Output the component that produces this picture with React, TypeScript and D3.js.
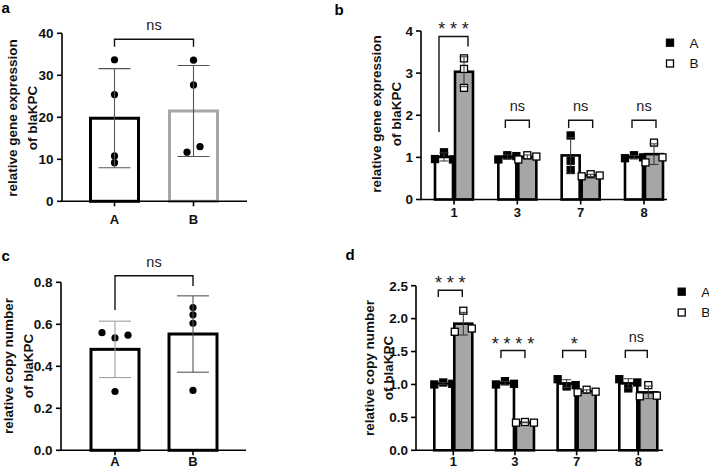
import React from "react";
import * as d3 from "d3";

const FONT = "'Liberation Sans', Arial, Helvetica, sans-serif";

// ---------------- data ----------------
const pairCategories = ["A", "B"];
const aGeneA = [33.7, 25.4, 10.8, 9.2];
const aGeneB = [33.6, 27.7, 11.7, 13.0];
const aTicks = [0, 10, 20, 30, 40];
const aSig = "ns";

const cCopyA = [0.56, 0.535, 0.548, 0.28];
const cCopyB = [0.68, 0.645, 0.605, 0.285];
const cTicks = [0, 0.2, 0.4, 0.6, 0.8];
const cSig = "ns";

const strainGroups = ["1", "3", "7", "8"];
const seriesNames = ["A", "B"];
const bGeneA = [[0.96, 1.12, 0.95], [0.95, 1.05, 1.03], [1.52, 0.92, 0.7], [0.98, 1.05, 1.0]];
const bGeneB = [[3.35, 3.1, 2.65], [0.95, 1.05, 1.02], [0.55, 0.6, 0.57], [0.88, 1.35, 1.0]];
const bSig = ["***", "ns", "ns", "ns"];
const bTicks = [0, 1, 2, 3, 4];

const dCopyA = [[1.0, 1.03, 1.01], [1.0, 1.05, 1.01], [1.08, 0.97, 0.99], [1.08, 0.94, 1.03]];
const dCopyB = [[1.8, 2.12, 1.85], [0.42, 0.43, 0.42], [0.88, 0.92, 0.89], [0.82, 0.99, 0.83]];
const dSig = ["***", "****", "*", "ns"];
const dTicks = [0, 0.5, 1, 1.5, 2, 2.5];

// ---------------- helpers ----------------
function spreadOffsets(vals: number[], y: (v: number) => number, thresh: number, step: number, pairStep: number) {
  const n = vals.length;
  const comp = new Array(n).fill(-1);
  let c = 0;
  for (let i = 0; i < n; i++) {
    if (comp[i] >= 0) continue;
    const stack = [i];
    comp[i] = c;
    while (stack.length) {
      const k = stack.pop() as number;
      for (let j = 0; j < n; j++) {
        if (comp[j] < 0 && Math.abs(y(vals[j]) - y(vals[k])) < thresh) {
          comp[j] = c;
          stack.push(j);
        }
      }
    }
    c++;
  }
  const offs = new Array(n).fill(0);
  for (let g = 0; g < c; g++) {
    const idx = d3.range(n).filter((i) => comp[i] === g);
    const m = idx.length;
    const s = m === 2 ? pairStep : step;
    idx.forEach((i, k) => (offs[i] = (k - (m - 1) / 2) * s));
  }
  return offs;
}

function SigText({ x, yLine, text }: { x: number; yLine: number; text: string }) {
  if (text === "ns") {
    return (
      <text x={x} y={yLine - 9} textAnchor="middle" fontSize={14.5} fontFamily={FONT} fill="#222">
        ns
      </text>
    );
  }
  const ls = 4.8;
  return (
    <text x={x + ls / 2} y={yLine - 1} textAnchor="middle" fontSize={18} letterSpacing={ls} fontFamily={FONT} fill="#1a1a1a">
      {text}
    </text>
  );
}

function YTitle({ lines, xs, y }: { lines: string[]; xs: number[]; y: number }) {
  return (
    <g>
      {lines.map((l, i) => (
        <text key={i} x={xs[i]} y={y} transform={`rotate(-90, ${xs[i]}, ${y})`} textAnchor="middle"
          fontSize={13.5} fontWeight="bold" fontFamily={FONT} fill="#111">
          {l}
        </text>
      ))}
    </g>
  );
}

function Axes({ y, ticks, fmt, axisX, xEnd, labelGap }: any) {
  const y0 = y(0);
  const yTop = y(ticks[ticks.length - 1]);
  return (
    <g>
      <line x1={axisX} x2={axisX} y1={y0} y2={yTop} stroke="#000" strokeWidth={1.6} />
      <line x1={axisX - 0.8} x2={xEnd} y1={y0} y2={y0} stroke="#000" strokeWidth={1.6} />
      {ticks.map((t: number) => (
        <g key={t}>
          <line x1={axisX - 5} x2={axisX} y1={y(t)} y2={y(t)} stroke="#000" strokeWidth={1.6} />
          <text x={axisX - labelGap} y={y(t)} dy="0.36em" textAnchor="end" fontSize={13.5} fontWeight="bold" fontFamily={FONT} fill="#111">
            {fmt(t)}
          </text>
        </g>
      ))}
    </g>
  );
}

// ---------------- two-bar panels (a, c) ----------------
function PairPanel(props: any) {
  const { letter, letterXY, y, ticks, fmt, axisX, xEnd, centers, series, strokes, errColors, title, titleXs, titleY, labelBaseline, bracket, sig, thresh } = props;
  const x = d3.scalePoint<string>().domain(pairCategories).range(centers);
  const y0 = y(0);
  const barW = 48;
  const capW = 32;
  return (
    <g>
      <text x={letterXY[0]} y={letterXY[1]} fontSize={15} fontWeight="bold" fontFamily={FONT}>{letter}</text>
      <YTitle lines={title} xs={titleXs} y={titleY} />
      {pairCategories.map((cat, i) => {
        const vals = series[i];
        const m = d3.mean(vals) as number;
        const s = d3.deviation(vals) as number;
        const cx = x(cat) as number;
        const offs = spreadOffsets(vals, y, thresh, 13, 13);
        return (
          <g key={cat}>
            <rect x={cx - barW / 2} y={y(m)} width={barW} height={y0 - y(m)} fill="#fff" stroke={strokes[i]} strokeWidth={3} />
            {vals.map((v: number, k: number) => (
              <circle key={k} cx={cx + offs[k]} cy={y(v)} r={3.6} fill="#000" />
            ))}
            <g stroke={errColors[i]} strokeWidth={1.1}>
              <line x1={cx} x2={cx} y1={y(m + s)} y2={y(m - s)} />
              <line x1={cx - capW / 2} x2={cx + capW / 2} y1={y(m + s)} y2={y(m + s)} />
              <line x1={cx - capW / 2} x2={cx + capW / 2} y1={y(m - s)} y2={y(m - s)} />
            </g>
            <line x1={cx} x2={cx} y1={y0} y2={y0 + 5} stroke="#000" strokeWidth={1.6} />
            <text x={cx} y={labelBaseline} textAnchor="middle" fontSize={13} fontWeight="bold" fontFamily={FONT} fill="#111">{cat}</text>
          </g>
        );
      })}
      <Axes y={y} ticks={ticks} fmt={fmt} axisX={axisX} xEnd={xEnd} labelGap={8.5} />
      {(() => {
        const xl = x("A") as number;
        const xr = x("B") as number;
        const yl = y(bracket.top);
        return (
          <g>
            <path d={`M${xl},${y(bracket.left)}V${yl}H${xr}V${y(bracket.right)}`} fill="none" stroke="#111" strokeWidth={1.4} />
            <SigText x={(xl + xr) / 2} yLine={yl} text={sig} />
          </g>
        );
      })()}
    </g>
  );
}

// ---------------- grouped panels (b, d) ----------------
function GroupPanel(props: any) {
  const { letter, letterXY, y, ticks, fmt, axisX, xEnd, range, seriesA, seriesB, sigs, title, titleXs, titleY, labelBaseline, brackets, legendXY } = props;
  const x = d3.scalePoint<string>().domain(strainGroups).range(range);
  const y0 = y(0);
  const capW = 9;
  const sq = 7;
  return (
    <g>
      <text x={letterXY[0]} y={letterXY[1]} fontSize={15} fontWeight="bold" fontFamily={FONT}>{letter}</text>
      <YTitle lines={title} xs={titleXs} y={titleY} />
      {strainGroups.map((g, gi) => {
        const c = x(g) as number;
        return (
          <g key={g}>
            {[seriesA[gi], seriesB[gi]].map((vals: number[], si: number) => {
              const m = d3.mean(vals) as number;
              const s = d3.deviation(vals) as number;
              const bx = si === 0 ? c - 19 : c + 1;
              const cx = bx + 9;
              const offs = spreadOffsets(vals, y, 7, 9, 17);
              return (
                <g key={si}>
                  <rect x={bx} y={y(m)} width={18} height={y0 - y(m)} fill={si === 0 ? "#fff" : "#a6a6a6"} stroke="#000" strokeWidth={2.6} />
                  {vals.map((v, k) => (
                    <rect key={k} x={cx + offs[k] - sq / 2} y={y(v) - sq / 2} width={sq} height={sq}
                      fill={si === 0 ? "#000" : "#fff"} stroke="#000" strokeWidth={1.3} />
                  ))}
                  <g stroke="#333" strokeWidth={1}>
                    <line x1={cx} x2={cx} y1={y(m + s)} y2={y(m - s)} />
                    <line x1={cx - capW / 2} x2={cx + capW / 2} y1={y(m + s)} y2={y(m + s)} />
                    <line x1={cx - capW / 2} x2={cx + capW / 2} y1={y(m - s)} y2={y(m - s)} />
                  </g>
                </g>
              );
            })}
            <line x1={c} x2={c} y1={y0} y2={y0 + 5} stroke="#000" strokeWidth={1.6} />
            <text x={c} y={labelBaseline} textAnchor="middle" fontSize={13} fontWeight="bold" fontFamily={FONT} fill="#111">{g}</text>
            {(() => {
              const br = brackets[gi];
              const xl = c + br.dx[0];
              const xr = c + br.dx[1];
              const yl = y(br.top);
              return (
                <g>
                  <path d={`M${xl},${y(br.left)}V${yl}H${xr}V${y(br.right)}`} fill="none" stroke="#111" strokeWidth={1.4} />
                  <SigText x={(xl + xr) / 2} yLine={yl} text={sigs[gi]} />
                </g>
              );
            })()}
          </g>
        );
      })}
      <Axes y={y} ticks={ticks} fmt={fmt} axisX={axisX} xEnd={xEnd} labelGap={8} />
      {seriesNames.map((nm, i) => (
        <g key={nm} transform={`translate(${legendXY[0]},${legendXY[1] + i * 20.8})`}>
          <rect x={-sq / 2} y={-sq / 2} width={sq} height={sq} fill={i === 0 ? "#000" : "#fff"} stroke="#000" strokeWidth={1.3} />
          <text x={19.5} y={4.8} fontSize={13.5} fontFamily={FONT} fill="#111">{nm}</text>
        </g>
      ))}
    </g>
  );
}

export default function App() {
  const yA = d3.scaleLinear().domain([0, 40]).range([201.3, 33.3]);
  const yC = d3.scaleLinear().domain([0, 0.8]).range([450.3, 282.3]);
  const yB = d3.scaleLinear().domain([0, 4]).range([199.5, 31]);
  const yD = d3.scaleLinear().domain([0, 2.5]).range([450.3, 285.7]);
  const fInt = d3.format("d");
  const f1 = d3.format(".1f");
  const bBrackets = [
    { dx: [-15, 14], top: 3.87, left: 1.6, right: 3.63 },
    { dx: [-12, 12], top: 1.88, left: 1.7, right: 1.7 },
    { dx: [-12, 12], top: 1.88, left: 1.7, right: 1.7 },
    { dx: [-12, 12], top: 1.88, left: 1.7, right: 1.7 },
  ];
  const dBrackets = [
    { dx: [-15, 9], top: 2.43, left: 2.33, right: 2.33 },
    { dx: [-14, 10], top: 1.515, left: 1.4, right: 1.4 },
    { dx: [-14, 9], top: 1.515, left: 1.4, right: 1.4 },
    { dx: [-13, 9], top: 1.515, left: 1.4, right: 1.4 },
  ];
  return (
    <svg width={709} height={473} viewBox="0 0 709 473" style={{ position: "absolute", left: 0, top: 0, background: "#fff" }}>
      <rect width={709} height={473} fill="#fff" />
      <PairPanel letter="a" letterXY={[1.5, 12.5]} y={yA} ticks={aTicks} fmt={fInt} axisX={62} xEnd={247}
        centers={[114.5, 193.5]} series={[aGeneA, aGeneB]} strokes={["#000", "#a6a6a6"]} errColors={["#555", "#555"]}
        title={["relative gene expression", "of blaKPC"]} titleXs={[16.8, 36.8]} titleY={118} labelBaseline={224}
        bracket={{ top: 38.6, left: 36.8, right: 36.8 }} sig={aSig} thresh={6.3} />
      <PairPanel letter="c" letterXY={[1.5, 260.7]} y={yC} ticks={cTicks} fmt={f1} axisX={61} xEnd={246}
        centers={[115, 193]} series={[cCopyA, cCopyB]} strokes={["#000", "#000"]} errColors={["#a0a0a0", "#555"]}
        title={["relative copy number", "of blaKPC"]} titleXs={[13.2, 33.2]} titleY={366} labelBaseline={465.5}
        bracket={{ top: 0.831, left: 0.668, right: 0.782 }} sig={cSig} thresh={6.3} />
      <GroupPanel letter="b" letterXY={[334.5, 14.5]} y={yB} ticks={bTicks} fmt={fInt} axisX={421} xEnd={667}
        range={[454, 644]} seriesA={bGeneA} seriesB={bGeneB} sigs={bSig}
        title={["relative gene expression", "of blaKPC"]} titleXs={[381, 400.5]} titleY={114} labelBaseline={216.7}
        brackets={bBrackets} legendXY={[670, 42.7]} />
      <GroupPanel letter="d" letterXY={[345.5, 260]} y={yD} ticks={dTicks} fmt={f1} axisX={416} xEnd={663}
        range={[453.3, 638.3]} seriesA={dCopyA} seriesB={dCopyB} sigs={dSig}
        title={["relative copy number", "of blaKPC"]} titleXs={[374, 393]} titleY={368} labelBaseline={466}
        brackets={dBrackets} legendXY={[681.7, 291.7]} />
    </svg>
  );
}
